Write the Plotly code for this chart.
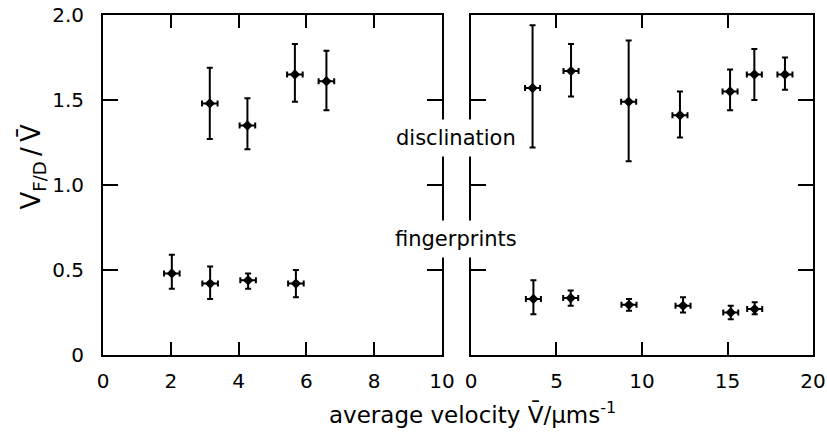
import plotly.graph_objects as go

# ---- data ----
left_disc_x = [3.15, 4.26, 5.66, 6.59]
left_disc_y = [1.48, 1.35, 1.65, 1.61]
left_disc_hi = [1.69, 1.51, 1.83, 1.79]
left_disc_lo = [1.27, 1.21, 1.49, 1.44]

left_fp_x = [2.03, 3.16, 4.28, 5.69]
left_fp_y = [0.48, 0.42, 0.44, 0.42]
left_fp_hi = [0.59, 0.52, 0.48, 0.50]
left_fp_lo = [0.39, 0.33, 0.39, 0.34]

left_xerr = 0.23

right_disc_x = [3.6, 5.85, 9.22, 12.22, 15.15, 16.57, 18.36]
right_disc_y = [1.57, 1.67, 1.49, 1.41, 1.55, 1.65, 1.65]
right_disc_hi = [1.94, 1.83, 1.85, 1.55, 1.68, 1.80, 1.75]
right_disc_lo = [1.22, 1.52, 1.14, 1.28, 1.44, 1.50, 1.56]

right_fp_x = [3.65, 5.83, 9.24, 12.4, 15.19, 16.59]
right_fp_y = [0.33, 0.335, 0.295, 0.29, 0.25, 0.27]
right_fp_hi = [0.44, 0.38, 0.33, 0.34, 0.29, 0.31]
right_fp_lo = [0.24, 0.29, 0.26, 0.25, 0.21, 0.24]

right_xerr = 0.44

left_xticks = [0, 2, 4, 6, 8, 10]
right_xticks = [0, 5, 10, 15, 20]
y_ticks = [0, 0.5, 1.0, 1.5, 2.0]
y_ticktext = ["0", "0.5", "1.0", "1.5", "2.0"]

FONT = "DejaVu Sans"
INK = "black"


def series(x, y, hi, lo, xerr, xa, ya):
    return go.Scatter(
        x=x, y=y, xaxis=xa, yaxis=ya, mode="markers",
        marker=dict(symbol="diamond", size=8, color=INK),
        error_y=dict(type="data", symmetric=False,
                     array=[h - v for h, v in zip(hi, y)],
                     arrayminus=[v - l for v, l in zip(y, lo)],
                     color=INK, thickness=2, width=3),
        error_x=dict(type="constant", value=xerr, color=INK, thickness=2, width=3),
        showlegend=False, hoverinfo="skip",
    )


fig = go.Figure()
fig.add_trace(series(left_disc_x, left_disc_y, left_disc_hi, left_disc_lo, left_xerr, "x", "y"))
fig.add_trace(series(left_fp_x, left_fp_y, left_fp_hi, left_fp_lo, left_xerr, "x", "y"))
fig.add_trace(series(right_disc_x, right_disc_y, right_disc_hi, right_disc_lo, right_xerr, "x2", "y2"))
fig.add_trace(series(right_fp_x, right_fp_y, right_fp_hi, right_fp_lo, right_xerr, "x2", "y2"))

tick_font = dict(family=FONT, size=20, color=INK)


def ax(**kw):
    base = dict(showline=True, linewidth=2, linecolor=INK, mirror="allticks",
                ticks="inside", tickwidth=2, tickcolor=INK, showgrid=False,
                zeroline=False, tickfont=tick_font, automargin=False)
    base.update(kw)
    return base


fig.update_layout(
    width=827, height=434,
    margin=dict(l=103, r=14, t=15, b=79),
    paper_bgcolor="white", plot_bgcolor="white",
    font=dict(family=FONT, size=20, color=INK),
    xaxis=ax(domain=[0, 0.4775], range=[0, 10], tickmode="array", tickvals=left_xticks,
             ticklen=13, anchor="y", ticklabelstandoff=7),
    xaxis2=ax(domain=[0.5183, 1], range=[0, 20], tickmode="array", tickvals=right_xticks,
              ticklen=13, anchor="y2", ticklabelstandoff=7),
    yaxis=ax(domain=[0, 1], range=[0, 2], tickmode="array", tickvals=y_ticks,
             ticktext=y_ticktext, ticklen=15, anchor="x", ticklabelstandoff=13),
    yaxis2=ax(domain=[0, 1], range=[0, 2], tickmode="array", tickvals=y_ticks,
              ticklen=15, anchor="x2", showticklabels=False),
)

ann_font = dict(family=FONT, size=21, color=INK)
fig.add_annotation(text="disclination", xref="paper", yref="paper", x=0.497, y=0.637,
                   showarrow=False, bgcolor="white", borderpad=6, font=ann_font)
fig.add_annotation(text="fingerprints", xref="paper", yref="paper", x=0.497, y=0.340,
                   showarrow=False, bgcolor="white", borderpad=6, font=ann_font)
fig.add_annotation(text="average velocity V\u0304/μms<sup>-1</sup>",
                   xref="paper", yref="paper",
                   x=0.521, y=-0.171, yanchor="middle", showarrow=False,
                   font=dict(family=FONT, size=23, color=INK))
fig.add_annotation(text="V<sub>F/D</sub>\u2009/\u2009V\u0304",
                   xref="paper", yref="paper",
                   x=-0.126, y=0.553, textangle=-90, showarrow=False,
                   font=dict(family=FONT, size=26, color=INK))

fig.write_html("out.html", config={"displayModeBar": False},
               post_script="document.body.style.margin='0';document.body.style.overflow='hidden';")
